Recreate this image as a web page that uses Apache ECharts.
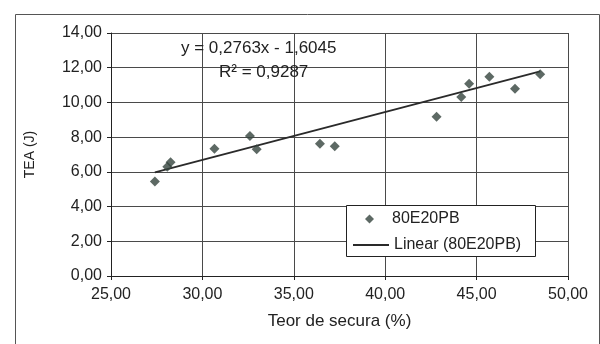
<!DOCTYPE html>
<html><head><meta charset="utf-8">
<script src="https://cdn.jsdelivr.net/npm/echarts@6/dist/echarts.min.js"></script>
<style>html,body{margin:0;padding:0;background:#fff}#c{width:600px;height:344px}</style>
</head><body><div id="c"></div>
<script>
const teorSecura = [27.40, 28.08, 28.26, 30.66, 32.60, 32.97, 36.43, 37.24, 42.81, 44.16, 44.59, 45.70, 47.10, 48.48];
const tea = [5.45, 6.30, 6.55, 7.33, 8.06, 7.30, 7.62, 7.47, 9.18, 10.31, 11.08, 11.48, 10.79, 11.62];
const slope = 0.2763;
const intercept = -1.6045;
const r2 = 0.9287;
const seriesName = '80E20PB';
const trendName = 'Linear (80E20PB)';
const xTicks = [25, 30, 35, 40, 45, 50];
const yTicks = [0, 2, 4, 6, 8, 10, 12, 14];

const fmt = v => v.toFixed(2).replace('.', ',');
const fmt4 = v => v.toFixed(4).replace('.', ',');
const xMin = Math.min(...teorSecura), xMax = Math.max(...teorSecura);
const trend = [[xMin, slope * xMin + intercept], [xMax, slope * xMax + intercept]];
const font = 'Liberation Sans, Arial, sans-serif';
const ink = '#222';

const chart = echarts.init(document.getElementById('c'));
chart.setOption({
  animation: false,
  backgroundColor: '#fff',
  textStyle: { fontFamily: font },
  grid: { left: 111, right: 32, top: 33, bottom: 68 },
  xAxis: {
    type: 'value', min: xTicks[0], max: xTicks[xTicks.length - 1], interval: 5,
    name: 'Teor de secura (%)', nameLocation: 'middle', nameGap: 37,
    nameTextStyle: { fontSize: 17, color: ink, fontFamily: font },
    axisLine: { lineStyle: { color: ink, width: 1 } },
    axisTick: { show: true, length: 4, lineStyle: { color: ink } },
    axisLabel: { formatter: fmt, fontSize: 16, color: ink, margin: 11 },
    splitLine: { show: true, lineStyle: { color: '#4a4a4a', width: 1 } }
  },
  yAxis: {
    type: 'value', min: yTicks[0], max: yTicks[yTicks.length - 1], interval: 2,
    name: 'TEA (J)', nameLocation: 'middle', nameGap: 74, nameRotate: 90,
    nameTextStyle: { fontSize: 14, color: ink, fontFamily: font },
    axisLine: { show: true, lineStyle: { color: ink, width: 1 } },
    axisTick: { show: true, length: 4, lineStyle: { color: ink } },
    axisLabel: { formatter: fmt, fontSize: 16, color: ink, margin: 9 },
    splitLine: { show: true, lineStyle: { color: '#4a4a4a', width: 1 } }
  },
  legend: [
    { data: [seriesName], left: 365, top: 211, padding: 0, z: 10, icon: 'diamond',
      itemWidth: 9, itemHeight: 9,
      textStyle: { fontSize: 16, color: ink, fontFamily: font, padding: [0, 0, 0, 13] } },
    { data: [trendName], left: 352, top: 237, padding: 0, z: 10,
      itemWidth: 36, itemHeight: 14,
      itemStyle: { opacity: 0 },
      lineStyle: { color: '#2a2a2a', width: 2 },
      textStyle: { fontSize: 16, color: ink, fontFamily: font } }
  ],
  graphic: [
    { type: 'rect', left: 346, top: 205, z: 4, shape: { width: 189, height: 51 },
      style: { fill: '#fff', stroke: ink, lineWidth: 1 } },
    { type: 'rect', left: 13, top: 12, z: 0, shape: { width: 584, height: 340 },
      style: { fill: 'none', stroke: '#555', lineWidth: 1 } },
    { type: 'text', left: 181, top: 40, z: 10,
      style: { text: 'y = ' + fmt4(slope) + 'x - ' + fmt4(Math.abs(intercept)),
        font: '17px ' + font, fill: ink } },
    { type: 'text', left: 219, top: 64, z: 10,
      style: { text: 'R² = ' + fmt4(r2), font: '17px ' + font, fill: ink } }
  ],
  series: [
    { name: seriesName, type: 'scatter', data: teorSecura.map((x, i) => [x, tea[i]]),
      symbol: 'diamond', symbolSize: 10, itemStyle: { color: '#34443d' }, z: 3 },
    { name: trendName, type: 'line', data: trend, symbol: 'none', showSymbol: false,
      lineStyle: { color: '#2a2a2a', width: 1.8 }, itemStyle: { color: '#2a2a2a' }, z: 2 }
  ]
});
</script>
</body></html>
